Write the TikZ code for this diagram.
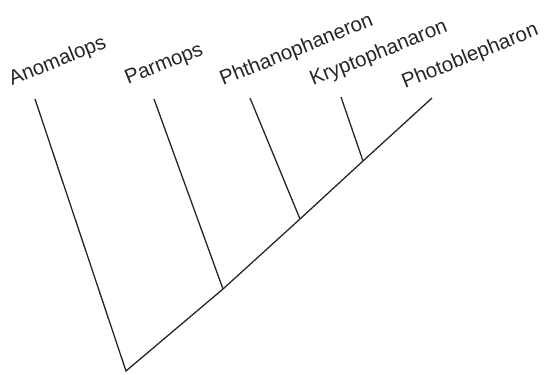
\documentclass[tikz,border=0pt]{standalone}
\usepackage{fontspec}
\setmainfont{Liberation Sans}
\begin{document}
\begin{tikzpicture}[x=1pt,y=-1pt,
  branch/.style={line width=1.3pt,color=black!85},
  taxon/.style={anchor=base west,inner sep=0pt,rotate=22,font=\fontsize{20.5}{20.5}\selectfont,text=black!85}]
\useasboundingbox (0,0) rectangle (544,375);
\coordinate (root) at (126,371);
\coordinate (j1) at (223,289);
\coordinate (j2) at (300,219);
\coordinate (j3) at (363,161);
\coordinate (tA) at (35,99);
\coordinate (tP) at (154,99);
\coordinate (tPh) at (250,98);
\coordinate (tK) at (341,97);
\coordinate (tPb) at (432,98);
\draw[branch] (tA) -- (root) -- (j1) -- (j2) -- (j3) -- (tPb);
\draw[branch] (tP) -- (j1);
\draw[branch] (tPh) -- (j2);
\draw[branch] (tK) -- (j3);
\node[taxon] (lA) at (12,86) {Anomalops};
\node[taxon] (lP) at (128,85) {Parmops};
\node[taxon] (lPh) at (223,86) {Phthanophaneron};
\node[taxon] (lK) at (313,86) {Kryptophanaron};
\node[taxon] (lPb) at (405,89) {Photoblepharon};
\end{tikzpicture}
\end{document}
